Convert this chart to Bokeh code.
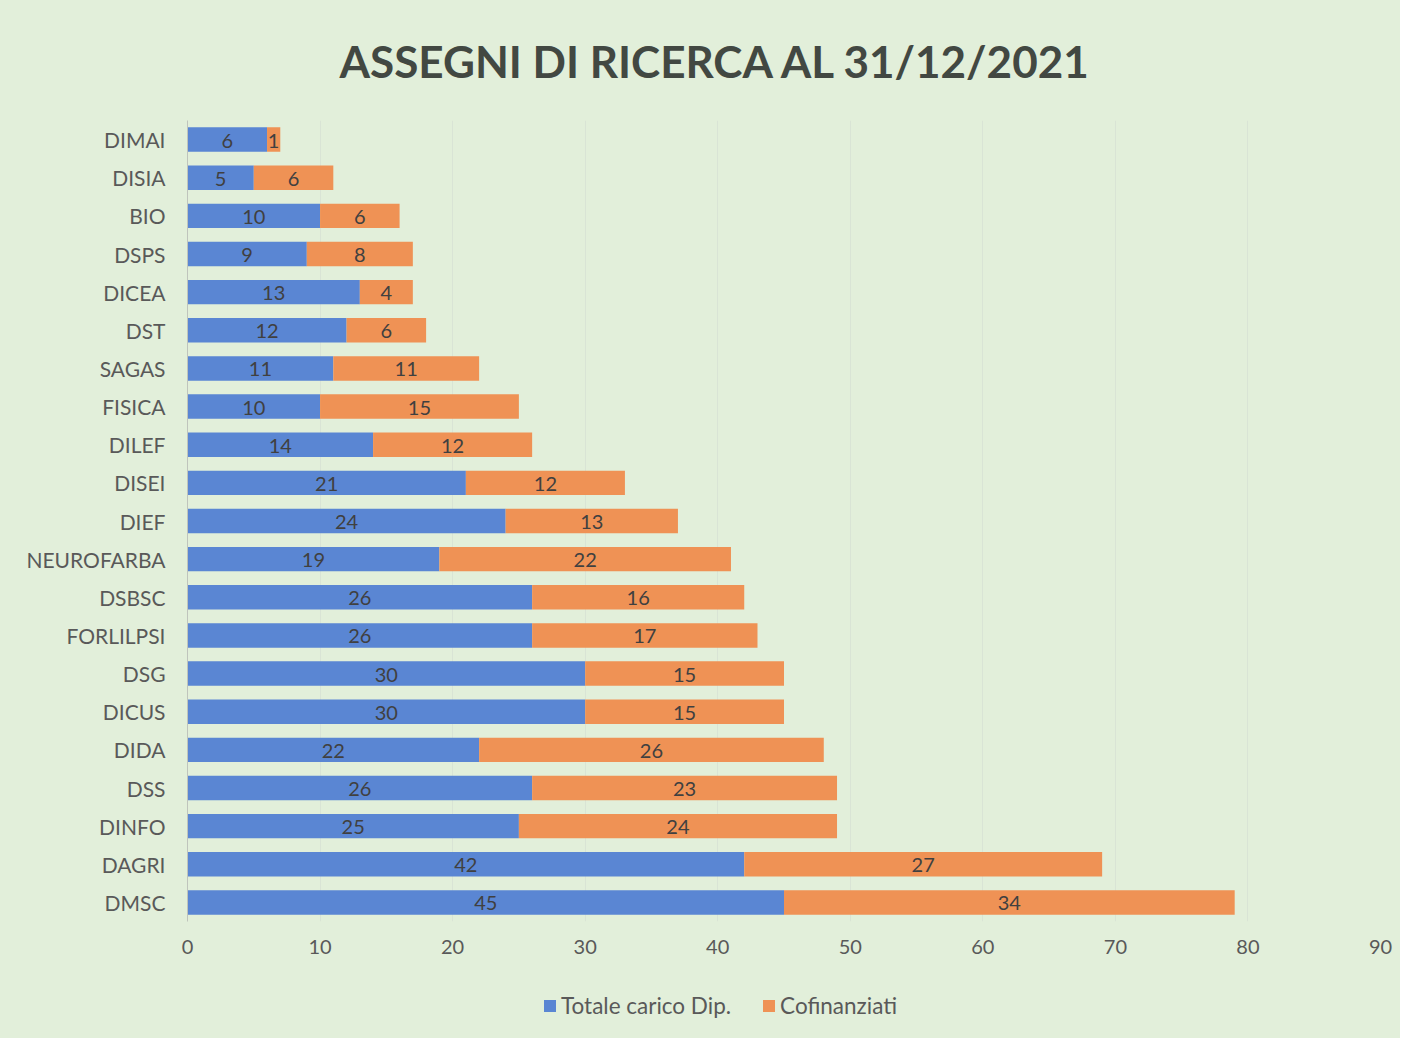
from bokeh.plotting import figure
from bokeh.models import ColumnDataSource, FactorRange, Range1d, FixedTicker, LabelSet, Title, Legend, LegendItem
from bokeh.layouts import column
from bokeh.core.properties import value
from bokeh.embed import file_html
from bokeh.resources import INLINE

departments = ["DIMAI", "DISIA", "BIO", "DSPS", "DICEA", "DST", "SAGAS", "FISICA", "DILEF",
               "DISEI", "DIEF", "NEUROFARBA", "DSBSC", "FORLILPSI", "DSG", "DICUS", "DIDA",
               "DSS", "DINFO", "DAGRI", "DMSC"]
totale_carico = [6, 5, 10, 9, 13, 12, 11, 10, 14, 21, 24, 19, 26, 26, 30, 30, 22, 26, 25, 42, 45]
cofinanziati = [1, 6, 6, 8, 4, 6, 11, 15, 12, 12, 13, 22, 16, 17, 15, 15, 26, 23, 24, 27, 34]
x_ticks = [0, 10, 20, 30, 40, 50, 60, 70, 80, 90]
series_names = ["Totale carico Dip.", "Cofinanziati"]
title_text = "ASSEGNI DI RICERCA AL 31/12/2021"

BG = "#E2EFDA"
BLUE = "#5A86D3"
ORANGE = "#EF9255"
TXT = "#404040"
AXTXT = "#595959"
FONT = "Lato"

source = ColumnDataSource(dict(
    dept=departments,
    tot=totale_carico,
    cof=cofinanziati,
    tot_mid=[t / 2 for t in totale_carico],
    cof_mid=[t + c / 2 for t, c in zip(totale_carico, cofinanziati)],
    tot_lbl=[str(v) for v in totale_carico],
    cof_lbl=[str(v) for v in cofinanziati],
))

# ---------------- main chart ----------------
p = figure(width=1400, height=975, output_backend="svg", toolbar_location=None,
           y_range=FactorRange(factors=list(reversed(departments))),
           x_range=Range1d(0, 90),
           min_border_left=187, min_border_right=20, min_border_top=120, min_border_bottom=54)
p.background_fill_alpha = 0
p.border_fill_color = BG
p.outline_line_color = None

p.hbar_stack(["tot", "cof"], y="dept", height=0.64, color=[BLUE, ORANGE], source=source,
             line_color=None)

for xcol, lcol in (("tot_mid", "tot_lbl"), ("cof_mid", "cof_lbl")):
    ls = LabelSet(x=xcol, y="dept", text=lcol, source=source, text_align="center",
                  text_baseline="middle", text_font=value(FONT), text_font_size="20px",
                  text_color=TXT, y_offset=-1)
    p.add_layout(ls)

p.xaxis.ticker = FixedTicker(ticks=x_ticks)
p.xaxis.axis_line_color = None
p.xaxis.major_tick_line_color = None
p.xaxis.minor_tick_line_color = None
p.xaxis.major_tick_out = 0
p.xaxis.major_tick_in = 0
p.xaxis.minor_tick_out = 0
p.xaxis.major_label_standoff = 18
p.xaxis.major_label_text_font = FONT
p.xaxis.major_label_text_font_size = "20px"
p.xaxis.major_label_text_color = AXTXT

p.yaxis.axis_line_color = "#BFC4BC"
p.yaxis.major_tick_line_color = None
p.yaxis.minor_tick_line_color = None
p.yaxis.major_tick_out = 0
p.yaxis.major_tick_in = 0
p.yaxis.minor_tick_out = 0
p.yaxis.major_label_standoff = 22
p.yaxis.major_label_text_font = FONT
p.yaxis.major_label_text_font_size = "21px"
p.yaxis.major_label_text_color = AXTXT

p.xgrid.grid_line_color = "#D3DCD2"
p.xgrid.grid_line_alpha = 0.6
p.ygrid.grid_line_color = None

title = Title(text=title_text, align="left", offset=152, standoff=65, vertical_align="middle",
              text_font=FONT, text_font_size="44px", text_font_style="bold", text_color="#424842")
p.add_layout(title, "above")

# ---------------- legend strip ----------------
# hidden proxy renderers: only their legend swatches are drawn
q = figure(width=1400, height=63, output_backend="svg", toolbar_location=None,
           x_range=Range1d(0, 1), y_range=Range1d(0, 1),
           min_border_left=0, min_border_right=0, min_border_top=0, min_border_bottom=0)
q.axis.visible = False
q.grid.visible = False
q.background_fill_alpha = 0
q.border_fill_color = BG
q.outline_line_color = None

r_tot = q.hbar(y="tot", right="tot", height=0.5, source=source, fill_color=BLUE, line_color=None)
r_cof = q.hbar(y="tot", right="cof", height=0.5, source=source, fill_color=ORANGE, line_color=None)
r_tot.visible = False
r_cof.visible = False

legend = Legend(items=[LegendItem(label=series_names[0], renderers=[r_tot]),
                       LegendItem(label=series_names[1], renderers=[r_cof])],
                orientation="horizontal", location=(355, 19))
legend.background_fill_alpha = 0
legend.border_line_color = None
legend.padding = 0
legend.margin = 0
legend.spacing = 30
legend.glyph_width = 15
legend.glyph_height = 15
legend.label_standoff = 4
legend.label_text_font = FONT
legend.label_text_font_size = "22.5px"
legend.label_text_color = AXTXT
q.add_layout(legend, "center")

layout = column(p, q, spacing=0)
layout.styles = {"background-color": BG}
open("out.html", "w").write(file_html(layout, INLINE))
